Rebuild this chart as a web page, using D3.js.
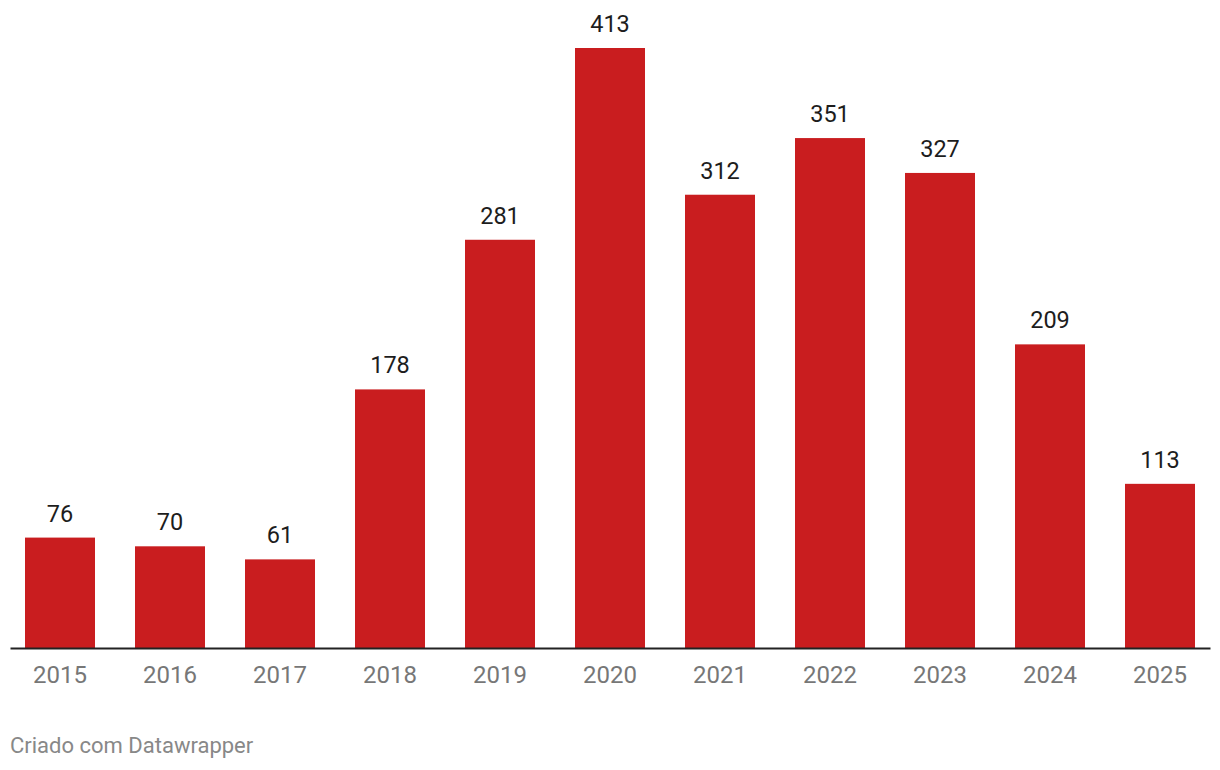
<!DOCTYPE html>
<html><head><meta charset="utf-8">
<script src="https://cdn.jsdelivr.net/npm/d3@7"></script>
<style>body{margin:0;background:#fff;font-family:Roboto,sans-serif;}</style>
</head><body>
<svg id="c" width="1220" height="770"></svg>
<script>
const years = ["2015","2016","2017","2018","2019","2020","2021","2022","2023","2024","2025"];
const values = [76,70,61,178,281,413,312,351,327,209,113];
const footer = "Criado com Datawrapper";

const svg = d3.select("#c");
const x = d3.scaleBand().domain(years).range([10,1210]).paddingInner(4/11).paddingOuter(1.5/11);
const y = d3.scaleLinear().domain([0,413]).range([648,48]);

svg.selectAll("rect.bar").data(values).join("rect")
  .attr("x",(d,i)=>x(years[i])).attr("width",x.bandwidth())
  .attr("y",d=>y(d)).attr("height",d=>y(0)-y(d)).attr("fill","#c91d1f");

svg.selectAll("text.val").data(values).join("text")
  .attr("x",(d,i)=>x(years[i])+x.bandwidth()/2).attr("y",d=>y(d)-16)
  .attr("text-anchor","middle").attr("font-size",23.5).attr("fill","#1d1d1d").text(d=>d);

const ax = svg.append("g").attr("transform","translate(0,648)")
  .call(d3.axisBottom(x).tickSize(0).tickPadding(18));
ax.select(".domain").attr("stroke","#222").attr("stroke-width",2);
ax.selectAll("text").attr("font-size",24).attr("fill","#777").attr("font-family","Roboto");

svg.append("text").attr("x",10).attr("y",753).attr("font-size",22).attr("fill","#888").text(footer);
</script>
</body></html>
